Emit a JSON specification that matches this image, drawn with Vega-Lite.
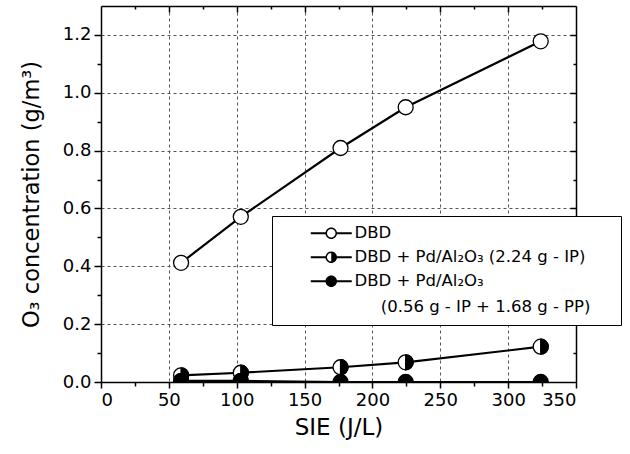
{
  "$schema": "https://vega.github.io/schema/vega-lite/v6.json",
  "width": 475,
  "height": 376,
  "autosize": {"type": "none"},
  "padding": {"left": 101, "top": 6, "right": 54, "bottom": 72},
  "config": {
    "font": "DejaVu Sans",
    "view": {"stroke": null},
    "style": {"guide-label": {"lineHeight": 26}},
    "axis": {
      "labelFont": "DejaVu Sans",
      "titleFont": "DejaVu Sans",
      "labelColor": "black",
      "titleColor": "black",
      "tickColor": "black",
      "domainColor": "black",
      "titleFontWeight": "normal",
      "tickWidth": 1.5,
      "domainWidth": 1.5
    }
  },
  "data": {
    "values": [
      {"series": "DBD", "sie": 59, "o3": 0.412},
      {"series": "DBD", "sie": 103, "o3": 0.571},
      {"series": "DBD", "sie": 176.5, "o3": 0.809},
      {"series": "DBD", "sie": 224.5, "o3": 0.95},
      {"series": "DBD", "sie": 324, "o3": 1.178},
      {"series": "IP", "sie": 59, "o3": 0.023},
      {"series": "IP", "sie": 103, "o3": 0.032},
      {"series": "IP", "sie": 176.5, "o3": 0.051},
      {"series": "IP", "sie": 224.5, "o3": 0.068},
      {"series": "IP", "sie": 324, "o3": 0.122},
      {"series": "PP", "sie": 59, "o3": 0.004},
      {"series": "PP", "sie": 103, "o3": 0.004},
      {"series": "PP", "sie": 176.5, "o3": 0.0},
      {"series": "PP", "sie": 224.5, "o3": 0.0},
      {"series": "PP", "sie": 324, "o3": 0.0}
    ]
  },
  "resolve": {"axis": {"x": "independent", "y": "independent"}},
  "layer": [
    {
      "mark": {"type": "line", "color": "black", "strokeWidth": 2.2, "clip": true},
      "encoding": {
        "x": {
          "field": "sie", "type": "quantitative",
          "scale": {"domain": [0, 350], "nice": false},
          "axis": {
            "orient": "bottom", "values": [0, 50, 100, 150, 200, 250, 300, 350], "format": "d",
            "labelFontSize": 18, "tickSize": 6, "labelPadding": 3,
            "grid": true, "gridDash": [3, 3], "gridColor": "#555555", "gridWidth": 1,
            "title": "SIE (J/L)", "titleFontSize": 23, "titlePadding": 7
          }
        },
        "y": {
          "field": "o3", "type": "quantitative",
          "scale": {"domain": [0, 1.3], "nice": false},
          "axis": {
            "orient": "left", "values": [0, 0.2, 0.4, 0.6, 0.8, 1.0, 1.2], "format": ".1f",
            "labelFontSize": 18, "tickSize": 7, "labelPadding": 3,
            "grid": true, "gridDash": [3, 3], "gridColor": "#555555", "gridWidth": 1,
            "title": "O₃ concentration (g/m³)", "titleFontSize": 22.5, "titlePadding": 19
          }
        },
        "detail": {"field": "series", "type": "nominal"}
      }
    },
    {
      "transform": [{"filter": "datum.series != 'PP'"}],
      "mark": {"type": "point", "filled": true, "fill": "white", "stroke": "black", "strokeWidth": 1.3, "size": 225, "opacity": 1, "clip": true,
               "shape": "M-1,0A1,1 0 1,1 1,0A1,1 0 1,1 -1,0Z"},
      "encoding": {
        "x": {"field": "sie", "type": "quantitative",
              "axis": {"orient": "bottom", "values": [25, 75, 125, 175, 225, 275, 325], "labels": false, "domain": false, "grid": false, "tickSize": 4, "title": null}},
        "y": {"field": "o3", "type": "quantitative",
              "axis": {"orient": "left", "values": [0.1, 0.3, 0.5, 0.7, 0.9, 1.1], "labels": false, "domain": false, "grid": false, "tickSize": 4, "title": null}}
      }
    },
    {
      "transform": [{"filter": "datum.series == 'IP'"}],
      "mark": {"type": "point", "filled": true, "fill": "black", "stroke": "black", "strokeWidth": 1.3, "size": 225, "opacity": 1, "clip": true,
               "shape": "M0,-1A1,1 0 0,1 0,1Z"},
      "encoding": {
        "x": {"field": "sie", "type": "quantitative",
              "axis": {"orient": "top", "values": [25, 75, 125, 175, 225, 275, 325], "labels": false, "domain": true, "grid": false, "tickSize": -3, "title": null}},
        "y": {"field": "o3", "type": "quantitative",
              "axis": {"orient": "right", "values": [0.1, 0.3, 0.5, 0.7, 0.9, 1.1], "labels": false, "domain": true, "grid": false, "tickSize": -3, "title": null}}
      }
    },
    {
      "transform": [{"filter": "datum.series == 'PP'"}],
      "mark": {"type": "point", "filled": true, "fill": "black", "stroke": "black", "strokeWidth": 1.3, "size": 225, "opacity": 1, "clip": true,
               "shape": "M-1,0A1,1 0 1,1 1,0A1,1 0 1,1 -1,0Z"},
      "encoding": {
        "x": {"field": "sie", "type": "quantitative",
              "axis": {"orient": "top", "values": [50, 100, 150, 200, 250, 300], "labels": false, "domain": false, "grid": false, "tickSize": -6, "title": null}},
        "y": {"field": "o3", "type": "quantitative",
              "axis": {"orient": "right", "values": [0.2, 0.4, 0.6, 0.8, 1.0, 1.2], "labels": false, "domain": false, "grid": false, "tickSize": -6, "title": null}}
      }
    },
    {
      "transform": [{"filter": "false"}],
      "mark": {"type": "point", "filled": true, "fill": "black", "strokeWidth": 0, "size": 100, "opacity": 1},
      "encoding": {
        "x": {"field": "sie", "type": "quantitative", "axis": null},
        "y": {"field": "o3", "type": "quantitative", "axis": null},
        "shape": {
          "field": "series", "type": "nominal",
          "scale": {
            "domain": ["DBD", "IP", "PP"],
            "range": [
              "M-4.1,-0.2H-1V0.2H-4.1ZM1,-0.2H4.1V0.2H1ZM0,-1.15A1.15,1.15 0 0,1 0,1.15A1.15,1.15 0 0,1 0,-1.15ZM0,-0.85A0.85,0.85 0 0,0 0,0.85A0.85,0.85 0 0,0 0,-0.85Z",
              "M-4.1,-0.2H-1V0.2H-4.1ZM1,-0.2H4.1V0.2H1ZM0,-1.15A1.15,1.15 0 0,1 0,1.15A1.15,1.15 0 0,1 0,-1.15ZM0,-0.85A0.85,0.85 0 0,0 0,0.85A0.85,0.85 0 0,0 0,-0.85ZM0,-0.86A0.86,0.86 0 0,1 0,0.86Z",
              "M-4.1,-0.2H-1V0.2H-4.1ZM1,-0.2H4.1V0.2H1ZM0,-1.15A1.15,1.15 0 0,1 0,1.15A1.15,1.15 0 0,1 0,-1.15Z"
            ]
          },
          "legend": {
            "orient": "none", "legendX": 171, "legendY": 210, "title": null,
            "padding": 9, "symbolOffset": 42, "labelOffset": 15,
            "rowPadding": 7,
            "strokeColor": "black", "fillColor": "white",
            "labelFont": "DejaVu Sans", "labelFontSize": 16.5, "labelColor": "black", "labelLimit": 500,
            "symbolFillColor": "black", "symbolStrokeWidth": 0, "symbolSize": 100,
            "labelExpr": "datum.value == 'DBD' ? 'DBD' : datum.value == 'IP' ? 'DBD + Pd/Al₂O₃ (2.24 g - IP)' : ['DBD + Pd/Al₂O₃', '\u200b\u00a0\u00a0\u00a0\u00a0\u00a0(0.56 g - IP + 1.68 g - PP)\u00a0\u00a0\u00a0\u00a0\u200b']"
          }
        }
      }
    }
  ]
}
